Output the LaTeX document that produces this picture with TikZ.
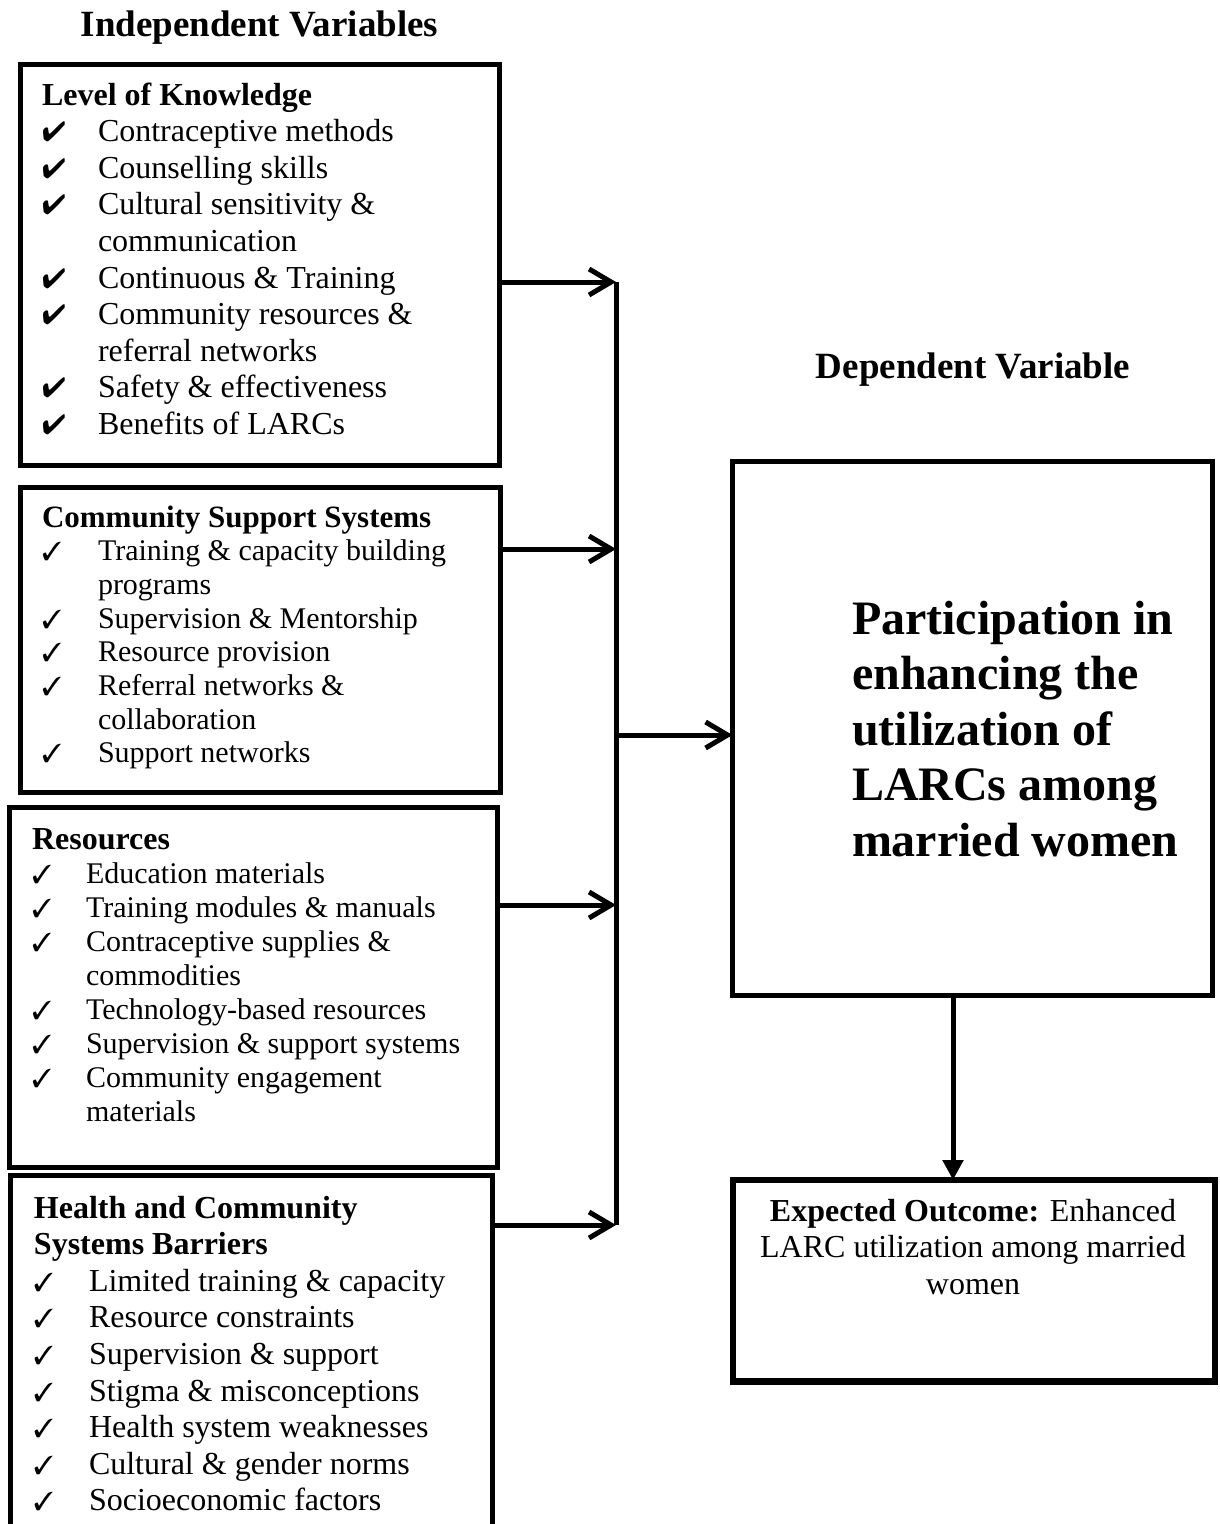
\documentclass[tikz,border=0pt]{standalone}
\usepackage{fontspec}
\setmainfont{Liberation Serif}
\usepackage{pifont}
\usetikzlibrary{arrows.meta}
\newcommand{\chkA}{{\fontsize{28}{28}\selectfont\ding{52}}}
\newcommand{\chkB}{{\fontsize{26}{26}\selectfont\ding{51}}}
\newcommand{\ckrow}[3]{\makebox[#1][l]{#2}#3}
\newcommand{\controw}[2]{\hspace*{#1}#2}
\tikzset{
  box/.style={draw, line width=5pt, inner sep=0pt, outer sep=0pt, anchor=north west},
  list/.style={anchor=base west, inner sep=0pt, outer sep=0pt},
  ttl/.style={anchor=base, inner sep=0pt, font=\fontsize{37}{40}\selectfont\bfseries},
  wire/.style={line width=5pt},
  conn/.style={line width=5pt, -{Straight Barb[length=22pt,width=26pt]}},
  tri/.style={line width=5pt, -{Triangle[length=20pt,width=20pt]}}
}
\begin{document}
\begin{tikzpicture}[x=1pt,y=1pt]
\useasboundingbox (0,0) rectangle (1219,-1524);
% titles
\node[ttl] (tind) at (259.5,-36) {Independent Variables};
\node[ttl] (tdep) at (973,-378) {Dependent Variable};
% boxes
\node[box, minimum width=479pt, minimum height=401pt] (b1) at (20.5,-64.5) {};
\node[box, minimum width=480pt, minimum height=305pt] (b2) at (20.5,-487.5) {};
\node[box, minimum width=488pt, minimum height=360pt] (b3) at (9.5,-807.5) {};
\node[box, minimum width=482pt, minimum height=390pt] (b4) at (10.5,-1175.5) {};
\node[box, minimum width=480pt, minimum height=534pt] (big) at (732.5,-461) {};
\node[box, line width=6.5pt, minimum width=482pt, minimum height=201.5pt] (out) at (733,-1180) {};
% box 1 text
\node[list] (t1) at (42,-105) {\parbox[t]{450pt}{\fontsize{32}{36.6}\selectfont
\textbf{Level of Knowledge}\\
\ckrow{56pt}{\chkA}{Contraceptive methods}\\
\ckrow{56pt}{\chkA}{Counselling skills}\\
\ckrow{56pt}{\chkA}{Cultural sensitivity \&}\\
\controw{56pt}{communication}\\
\ckrow{56pt}{\chkA}{Continuous \& Training}\\
\ckrow{56pt}{\chkA}{Community resources \&}\\
\controw{56pt}{referral networks}\\
\ckrow{56pt}{\chkA}{Safety \& effectiveness}\\
\ckrow{56pt}{\chkA}{Benefits of LARCs}}};
% box 2 text
\node[list] (t2) at (42,-527) {\parbox[t]{450pt}{\fontsize{30}{33.7}\selectfont
{\fontsize{31}{33.7}\selectfont\textbf{Community Support Systems}}\\
\ckrow{56pt}{\chkB}{Training \& capacity building}\\
\controw{56pt}{programs}\\
\ckrow{56pt}{\chkB}{Supervision \& Mentorship}\\
\ckrow{56pt}{\chkB}{Resource provision}\\
\ckrow{56pt}{\chkB}{Referral networks \&}\\
\controw{56pt}{collaboration}\\
\ckrow{56pt}{\chkB}{Support networks}}};
% box 3 text
\node[list] (t3) at (32,-849) {\parbox[t]{460pt}{\fontsize{30}{34}\selectfont
{\fontsize{32}{34}\selectfont\textbf{Resources}}\\
\ckrow{54pt}{\chkB}{Education materials}\\
\ckrow{54pt}{\chkB}{Training modules \& manuals}\\
\ckrow{54pt}{\chkB}{Contraceptive supplies \&}\\
\controw{54pt}{commodities}\\
\ckrow{54pt}{\chkB}{Technology-based resources}\\
\ckrow{54pt}{\chkB}{Supervision \& support systems}\\
\ckrow{54pt}{\chkB}{Community engagement}\\
\controw{54pt}{materials}}};
% box 4 text
\node[list] (t4) at (34,-1218) {\parbox[t]{455pt}{\fontsize{32}{36.6}\selectfont
\textbf{Health and Community}\\
\textbf{Systems Barriers}\\
\ckrow{55pt}{\chkB}{Limited training \& capacity}\\
\ckrow{55pt}{\chkB}{Resource constraints}\\
\ckrow{55pt}{\chkB}{Supervision \& support}\\
\ckrow{55pt}{\chkB}{Stigma \& misconceptions}\\
\ckrow{55pt}{\chkB}{Health system weaknesses}\\
\ckrow{55pt}{\chkB}{Cultural \& gender norms}\\
\ckrow{55pt}{\chkB}{Socioeconomic factors}}};
% dependent variable text
\node[list] (tbig) at (852,-634) {\parbox[t]{360pt}{\fontsize{48}{55.5}\selectfont\bfseries
Participation in\\
enhancing the\\
utilization of\\
LARCs among\\
married women}};
% expected outcome
\node[anchor=base, inner sep=0pt] (tout) at (973,-1221) {\parbox[t]{470pt}{\centering\fontsize{32}{36.6}\selectfont
\textbf{Expected Outcome:} Enhanced\\
LARC utilization among married\\
women}};
% connectors
\coordinate (j1) at (616,-282);
\coordinate (j2) at (616,-549);
\coordinate (jm) at (616,-735);
\coordinate (j3) at (616,-905);
\coordinate (j4) at (616,-1225);
\coordinate (ax) at (953,0);
\draw[wire] (j1) -- (j4);
\draw[conn] (b1.east |- j1) -- (j1);
\draw[conn] (b2.east |- j2) -- (j2);
\draw[conn] (b3.east |- j3) -- (j3);
\draw[conn] (b4.east |- j4) -- (j4);
\draw[conn] (jm) -- (big.west |- jm);
\draw[tri] (big.south -| ax) -- (out.north -| ax);
\end{tikzpicture}
\end{document}
